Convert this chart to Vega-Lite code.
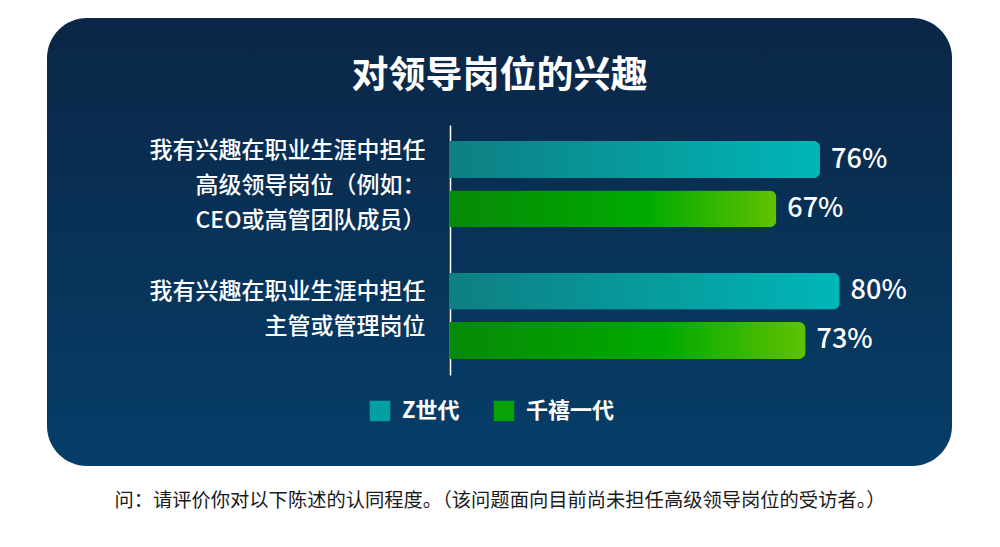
{
  "$schema": "https://vega.github.io/schema/vega-lite/v6.json",
  "width": 905,
  "height": 448,
  "autosize": "none",
  "padding": {"left": 47, "top": 18, "right": 48, "bottom": 81},
  "background": "#ffffff",
  "title": {
    "text": "对领导岗位的兴趣",
    "fontSize": 37,
    "fontWeight": "bold",
    "color": "#ffffff",
    "baseline": "middle",
    "anchor": "middle",
    "offset": -96
  },
  "data": {
    "values": [
      {"question": "我有兴趣在职业生涯中担任\n高级领导岗位（例如：\nCEO或高管团队成员）", "gen": "Z世代", "share": 0.76},
      {"question": "我有兴趣在职业生涯中担任\n高级领导岗位（例如：\nCEO或高管团队成员）", "gen": "千禧一代", "share": 0.67},
      {"question": "我有兴趣在职业生涯中担任\n主管或管理岗位", "gen": "Z世代", "share": 0.80},
      {"question": "我有兴趣在职业生涯中担任\n主管或管理岗位", "gen": "千禧一代", "share": 0.73}
    ]
  },
  "encoding": {
    "y": {
      "field": "question",
      "type": "nominal",
      "sort": null,
      "scale": {"range": [107, 357], "paddingInner": 0.344, "paddingOuter": 0.122},
      "axis": {
        "title": null,
        "offset": -403,
        "ticks": false,
        "domainColor": "#ffffff",
        "domainWidth": 1.5,
        "labelColor": "#ffffff",
        "labelFontSize": 23,
        "labelFontWeight": 500,
        "labelPadding": 25,
        "labelLimit": 400,
        "labelBaseline": "middle",
        "labelLineHeight": 35,
        "labelOffset": {"condition": {"test": "indexof(datum.value, 'CEO') >= 0", "value": -33}, "value": -24},
        "labelExpr": "split(datum.label, '\\n')"
      }
    },
    "yOffset": {
      "field": "gen",
      "type": "nominal",
      "sort": ["Z世代", "千禧一代"],
      "scale": {"paddingInner": 0.25, "paddingOuter": 0}
    },
    "x": {
      "field": "share",
      "type": "quantitative",
      "scale": {"domain": [-0.8275, 1.0308], "nice": false, "zero": false},
      "axis": {
        "title": "问：请评价你对以下陈述的认同程度。（该问题面向目前尚未担任高级领导岗位的受访者。）",
        "titleFontSize": 19.3,
        "titleFontWeight": "normal",
        "titleColor": "#1a1a1a",
        "titlePadding": 25,
        "labels": false,
        "ticks": false,
        "domain": false,
        "grid": false
      }
    }
  },
  "layer": [
    {
      "mark": {"type": "bar", "cornerRadiusEnd": 7},
      "encoding": {
        "color": {
          "field": "gen",
          "type": "nominal",
          "scale": {"domain": ["Z世代", "千禧一代"], "range": ["#03a0a2", "#07a207"]},
          "legend": {
            "title": null,
            "orient": "none",
            "legendX": 322,
            "legendY": 382,
            "direction": "horizontal",
            "symbolType": "square",
            "symbolSize": 420,
            "symbolStrokeWidth": 0,
            "labelColor": "#ffffff",
            "labelFontSize": 22,
            "labelFontWeight": "bold",
            "labelOffset": 11,
            "columnPadding": 33
          }
        }
      }
    },
    {
      "transform": [{"filter": "datum.gen === 'Z世代'"}],
      "mark": {
        "type": "bar",
        "cornerRadiusEnd": 7,
        "fill": {
          "gradient": "linear",
          "x1": 0, "y1": 0, "x2": 1, "y2": 0,
          "stops": [
            {"offset": 0, "color": "#0e7f83"},
            {"offset": 1, "color": "#00b6b7"}
          ]
        }
      }
    },
    {
      "transform": [{"filter": "datum.gen === '千禧一代'"}],
      "mark": {
        "type": "bar",
        "cornerRadiusEnd": 7,
        "fill": {
          "gradient": "linear",
          "x1": 0, "y1": 0, "x2": 1, "y2": 0,
          "stops": [
            {"offset": 0, "color": "#078a07"},
            {"offset": 0.6, "color": "#00aa00"},
            {"offset": 1, "color": "#60c200"}
          ]
        }
      }
    },
    {
      "mark": {"type": "text", "align": "left", "baseline": "middle", "dx": 11, "fontSize": 27, "fontWeight": 500, "color": "#ffffff"},
      "encoding": {
        "text": {"field": "share", "type": "quantitative", "format": ".0%"}
      }
    }
  ],
  "config": {
    "font": "Noto Sans CJK SC",
    "view": {
      "cornerRadius": 40,
      "stroke": null,
      "fill": {
        "gradient": "linear",
        "x1": 0, "y1": 0, "x2": 0, "y2": 1,
        "stops": [
          {"offset": 0, "color": "#0b2646"},
          {"offset": 1, "color": "#053e69"}
        ]
      }
    }
  }
}
